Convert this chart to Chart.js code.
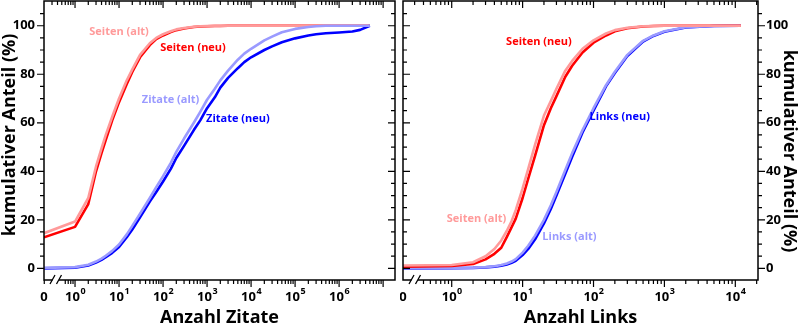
<!DOCTYPE html>
<html>
<head>
    <title>Kumulativer Anteil - Zitate und Links</title>
    <script src="https://cdn.jsdelivr.net/npm/chart.js"></script>
    <style>
        body {
            margin: 0;
            background: #fff;
        }
        #wrap {
            position: relative;
            width: 800px;
            height: 325px;
        }
        .panel {
            position: absolute;
            top: 0;
            width: 400px;
            height: 325px;
        }
    </style>
</head>
<body>

<div id="wrap">
    <div class="panel" style="left:0"><canvas id="zitateChart" width="400" height="325"></canvas></div>
    <div class="panel" style="left:400px"><canvas id="linksChart" width="400" height="325"></canvas></div>
</div>

<script>
// --- left panel: Anzahl Zitate ---
const zitateCounts = [0, 1, 2, 3, 4, 5, 7, 10, 15, 20,
                      30, 50, 70, 100, 150, 200, 300, 500, 700, 1000,
                      1500, 2000, 3000, 5000, 7000, 1e4, 2e4, 3e4, 5e4, 1e5,
                      2e5, 3e5, 5e5, 1e6, 2e6, 3e6, 5e6];
const zitateSeitenAlt = [14.5, 19.3, 29, 42, 49.5, 55, 62.5, 70, 77.5, 82,
                         88, 92.8, 95, 96.5, 97.7, 98.5, 99.1, 99.6, 99.8, 99.9,
                         100, 100, 100, 100, 100, 100, 100, 100, 100, 100,
                         100, 100, 100, 100, 100, 100, 100];
const zitateSeitenNeu = [12.8, 17.1, 26.5, 40, 47.5, 53, 61, 68.5, 76, 81,
                         87, 92, 94.5, 96, 97.4, 98.2, 98.9, 99.5, 99.7, 99.8,
                         99.9, 99.9, 100, 100, 100, 100, 100, 100, 100, 100,
                         100, 100, 100, 100, 100, 100, 100];
const zitateZitateAlt = [0.2, 0.5, 1.5, 2.8, 4, 5.2, 7.2, 9.8, 14, 17.5,
                         22.5, 29, 33.5, 38, 43.5, 48, 53.5, 60, 64.5, 69.5,
                         74, 77.5, 81.5, 86, 88.5, 90.5, 94, 95.5, 97.3, 98.7,
                         99.5, 99.8, 100, 100, 100, 100, 100];
const zitateZitateNeu = [0, 0.3, 1.2, 2.4, 3.5, 4.6, 6.4, 8.8, 12.8, 16,
                         21, 27.5, 31.5, 35.8, 41, 45.5, 50.5, 57, 61, 66,
                         70.5, 74.5, 78.5, 82.5, 85, 87, 90, 91.5, 93.2, 94.8,
                         96, 96.5, 96.9, 97.2, 97.6, 98.3, 100];
const zitateDecades = [0, 1, 2, 3, 4, 5, 6];

// --- right panel: Anzahl Links ---
const linksCounts = [0, 1, 2, 3, 4, 5, 6, 7, 8, 10, 12, 15, 20, 25, 30, 40, 50, 70, 100, 150, 200, 300, 500, 700,
                     1000, 2000, 5000, 12000];
const linksSeitenAlt = [1.2, 1.4, 2.5, 5, 8, 11.5, 15.5, 19.5, 24, 33, 41, 51, 63, 69, 74, 81.5, 85.5, 90.5, 94, 96.8,
                        98.2, 99.2, 99.8, 99.9, 100, 100, 100, 100];
const linksSeitenNeu = [0.7, 1, 1.8, 3.7, 6, 8.5, 13, 17, 20.5, 29, 37, 46.5, 59, 66, 71, 79, 83.5, 89, 93, 96,
                        97.7, 99, 99.7, 99.9, 100, 100, 100, 100];
const linksLinksAlt = [0.1, 0.2, 0.3, 0.5, 0.9, 1.4, 2, 2.8, 3.8, 6.5, 9.3, 13.5, 20, 26, 31.5, 40.5, 47.5, 57, 66, 75.5,
                       81, 88, 93.8, 96, 97.7, 99.4, 99.9, 100];
const linksLinksNeu = [0, 0.1, 0.2, 0.4, 0.7, 1.1, 1.6, 2.3, 3.1, 5.5, 8, 12, 18.5, 24.5, 30, 39, 46, 56, 65, 75,
                       80.5, 87.5, 93.5, 95.8, 97.5, 99.3, 99.9, 100];
const linksDecades = [0, 1, 2, 3, 4];

const yMajor = [0, 20, 40, 60, 80, 100];

const RED = '#ff0000', RED_ALT = '#ff9a9a', BLUE = '#0000ff', BLUE_ALT = '#9a9aff';
const FONT = "'Open Sans', 'Noto Sans', sans-serif";

// "0" sits at the left edge, left of the axis break
function toX(count, zeroPos) {
    return count === 0 ? zeroPos : Math.log10(count);
}

function series(counts, values, zeroPos) {
    return counts.map((c, i) => ({ x: toX(c, zeroPos), y: values[i] }));
}

function line(label, data, color) {
    return {
        label: label,
        data: data,
        borderColor: color,
        borderWidth: 2.6,
        borderJoinStyle: 'round',
        pointRadius: 0,
        tension: 0,
        fill: false
    };
}

// frame, log ticks, axis break, superscript labels, titles and curve labels
function makeFrame(cfg) {
    return {
        id: 'frame',
        afterDraw(chart) {
            const ctx = chart.ctx;
            const a = chart.chartArea;
            const xs = chart.scales.x, ys = chart.scales.y;
            const outLeft = cfg.side === 'left';
            ctx.save();
            ctx.strokeStyle = '#000';
            ctx.lineWidth = 1.5;
            ctx.strokeRect(a.left, a.top, a.right - a.left, a.bottom - a.top);

            const brk0 = a.left + 8.5, brk1 = a.left + 15;

            // x ticks
            const xt = [];
            for (let d = -1; d <= cfg.decades[cfg.decades.length - 1] + 1; d++) {
                xt.push({ v: d, major: true });
                for (let k = 2; k <= 9; k++) xt.push({ v: d + Math.log10(k), major: false });
            }
            ctx.lineWidth = 1.2;
            ctx.beginPath();
            xt.forEach(t => {
                if (t.v < xs.min || t.v > xs.max) return;
                const p = xs.getPixelForValue(t.v);
                const len = t.major ? 7 : 4;
                if (p > a.left + 4) {
                    ctx.moveTo(p, a.top); ctx.lineTo(p, a.top + len);
                }
                if (p > brk0 - 4 && p < brk1 + 4) return;
                ctx.moveTo(p, a.bottom); ctx.lineTo(p, a.bottom + len);
            });
            // y ticks
            for (let v = 0; v <= 105; v += 5) {
                const p = ys.getPixelForValue(v);
                const len = v % 20 === 0 ? 7 : 4;
                if (outLeft) {
                    ctx.moveTo(a.left, p); ctx.lineTo(a.left - len, p);
                    ctx.moveTo(a.right, p); ctx.lineTo(a.right - len, p);
                } else {
                    ctx.moveTo(a.right, p); ctx.lineTo(a.right + len, p);
                    ctx.moveTo(a.left, p); ctx.lineTo(a.left + len, p);
                }
            }
            ctx.stroke();

            // axis break
            ctx.fillStyle = '#fff';
            ctx.fillRect(brk0, a.bottom - 2, brk1 - brk0, 4);
            ctx.lineWidth = 1.3;
            ctx.beginPath();
            [brk0, brk1].forEach(b => {
                ctx.moveTo(b - 2.5, a.bottom + 4);
                ctx.lineTo(b + 2.5, a.bottom - 5);
            });
            ctx.stroke();

            // x tick labels
            ctx.fillStyle = '#000';
            ctx.textBaseline = 'alphabetic';
            ctx.textAlign = 'left';
            const base = 'bold 13px ' + FONT, sup = 'bold 9px ' + FONT;
            ctx.font = base;
            const zw = ctx.measureText('0').width;
            ctx.fillText('0', xs.getPixelForValue(xs.min) - zw / 2, 301);
            cfg.decades.forEach(d => {
                const p = xs.getPixelForValue(d);
                ctx.font = base;
                const w1 = ctx.measureText('10').width;
                ctx.font = sup;
                const w2 = ctx.measureText(String(d)).width;
                const x0 = p - (w1 + w2) / 2;
                ctx.font = base;
                ctx.fillText('10', x0, 301);
                ctx.font = sup;
                ctx.fillText(String(d), x0 + w1 + 0.5, 294);
            });

            // axis titles
            ctx.font = 'bold 18px ' + FONT;
            ctx.textAlign = 'center';
            ctx.fillText(cfg.xTitle, (a.left + a.right) / 2, 323);
            ctx.save();
            if (outLeft) {
                ctx.translate(15, 135);
                ctx.rotate(-Math.PI / 2);
            } else {
                ctx.translate(384, 151);
                ctx.rotate(Math.PI / 2);
            }
            ctx.fillText(cfg.yTitle, 0, 0);
            ctx.restore();

            // curve labels
            ctx.font = 'bold 11px ' + FONT;
            ctx.textBaseline = 'middle';
            cfg.labels.forEach(l => {
                ctx.fillStyle = l.color;
                ctx.fillText(l.text, xs.getPixelForValue(l.x), ys.getPixelForValue(l.y));
            });
            ctx.restore();
        }
    };
}

function makeChart(id, cfg) {
    return new Chart(document.getElementById(id), {
        type: 'line',
        data: { datasets: cfg.datasets },
        options: {
            responsive: false,
            animation: false,
            devicePixelRatio: 1,
            layout: { padding: cfg.padding },
            plugins: {
                legend: { display: false },
                tooltip: { enabled: false }
            },
            scales: {
                x: {
                    type: 'linear',
                    min: cfg.xMin,
                    max: cfg.xMax,
                    grid: { display: false, drawTicks: false },
                    border: { display: false },
                    ticks: { display: false },
                    afterFit: s => {
                        s.height = 45;
                        s.paddingLeft = 0;
                        s.paddingRight = 0;
                    }
                },
                y: {
                    position: cfg.side,
                    min: -4.8,
                    max: 110.2,
                    grid: { display: false, drawTicks: false },
                    border: { display: false },
                    afterBuildTicks: s => { s.ticks = yMajor.map(v => ({ value: v })); },
                    ticks: {
                        color: '#000',
                        padding: cfg.side === 'left' ? 9 : 8,
                        font: { family: FONT, size: 13, weight: 'bold' }
                    },
                    afterFit: s => {
                        s.width = cfg.yWidth;
                        s.paddingTop = 0;
                        s.paddingBottom = 0;
                    }
                }
            }
        },
        plugins: [makeFrame(cfg)]
    });
}

const zZero = -0.705;
makeChart('zitateChart', {
    side: 'left',
    xMin: zZero,
    xMax: 7.27,
    yWidth: 44,
    padding: { top: 1, right: 5, left: 0, bottom: 0 },
    decades: zitateDecades,
    xTitle: 'Anzahl Zitate',
    yTitle: 'kumulativer Anteil (%)',
    datasets: [
        line('Zitate (alt)', series(zitateCounts, zitateZitateAlt, zZero), BLUE_ALT),
        line('Zitate (neu)', series(zitateCounts, zitateZitateNeu, zZero), BLUE),
        line('Seiten (alt)', series(zitateCounts, zitateSeitenAlt, zZero), RED_ALT),
        line('Seiten (neu)', series(zitateCounts, zitateSeitenNeu, zZero), RED)
    ],
    labels: [
        { text: 'Seiten (alt)', x: 1.0, y: 97.3, color: RED_ALT },
        { text: 'Seiten (neu)', x: 2.68, y: 90.7, color: RED },
        { text: 'Zitate (alt)', x: 2.17, y: 69.4, color: BLUE_ALT },
        { text: 'Zitate (neu)', x: 3.7, y: 61.8, color: BLUE }
    ]
});

const lZero = -0.687;
makeChart('linksChart', {
    side: 'right',
    xMin: lZero,
    xMax: 4.32,
    yWidth: 42,
    padding: { top: 1, right: 0, left: 3, bottom: 0 },
    decades: linksDecades,
    xTitle: 'Anzahl Links',
    yTitle: 'kumulativer Anteil (%)',
    datasets: [
        line('Seiten (alt)', series(linksCounts, linksSeitenAlt, lZero), RED_ALT),
        line('Seiten (neu)', series(linksCounts, linksSeitenNeu, lZero), RED),
        line('Links (alt)', series(linksCounts, linksLinksAlt, lZero), BLUE_ALT),
        line('Links (neu)', series(linksCounts, linksLinksNeu, lZero), BLUE)
    ],
    labels: [
        { text: 'Seiten (neu)', x: 1.23, y: 93.2, color: RED },
        { text: 'Seiten (alt)', x: 0.35, y: 20.6, color: RED_ALT },
        { text: 'Links (neu)', x: 2.37, y: 62.5, color: BLUE },
        { text: 'Links (alt)', x: 1.66, y: 12.8, color: BLUE_ALT }
    ]
});
</script>

</body>
</html>
